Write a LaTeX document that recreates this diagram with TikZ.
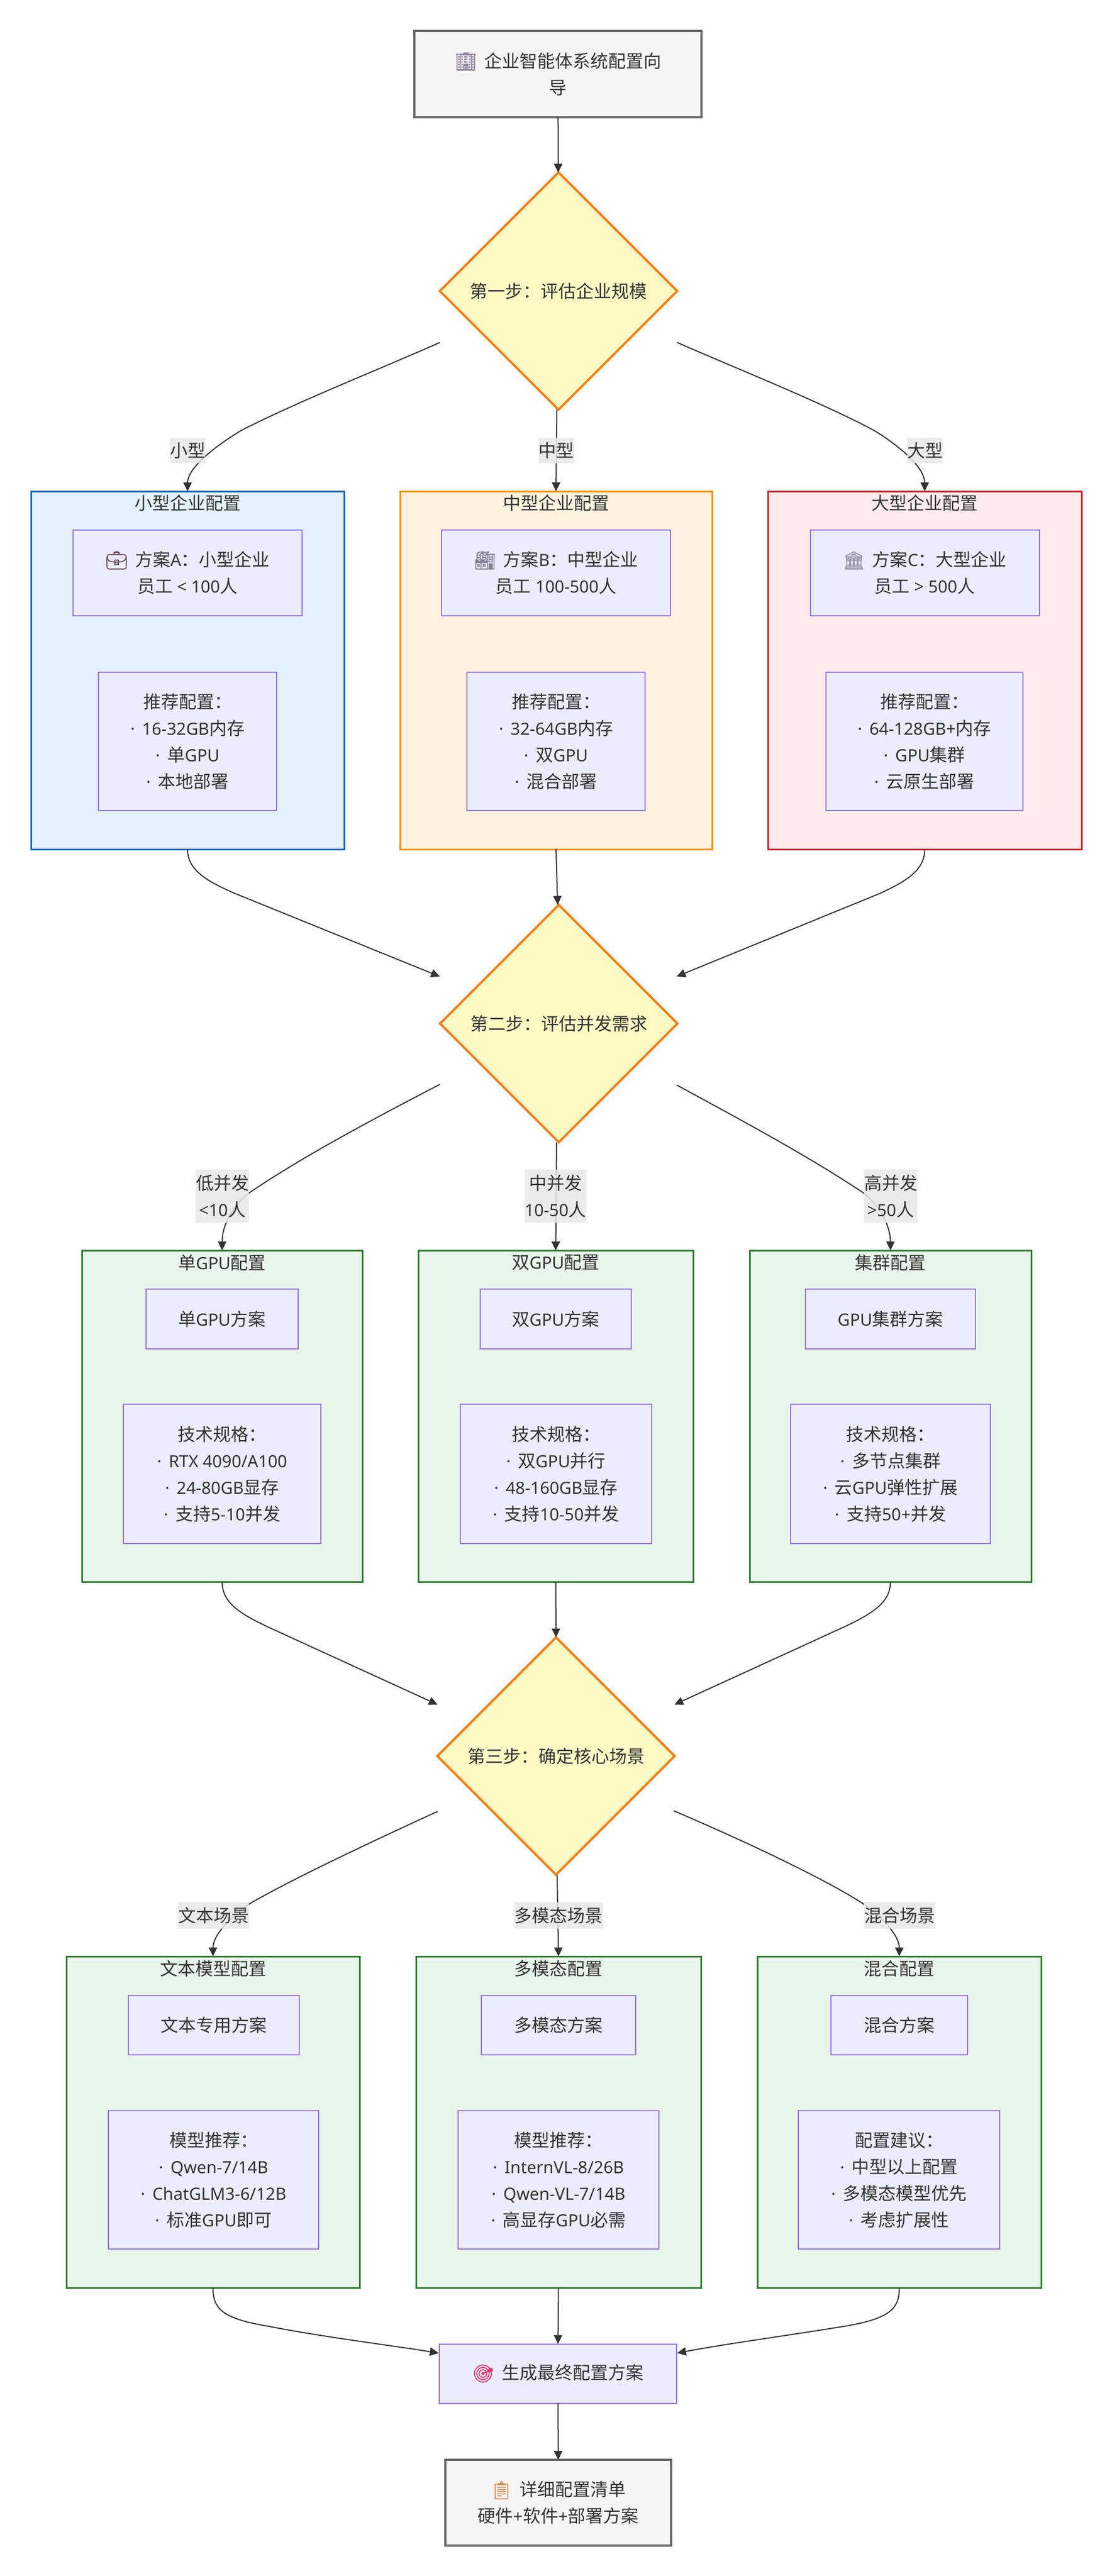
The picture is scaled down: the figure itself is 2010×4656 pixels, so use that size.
\documentclass[tikz,border=0pt]{standalone}
\usepackage{fontspec}
\usepackage{tikz}
\usetikzlibrary{arrows.meta,shapes.geometric}
\setmainfont{Noto Sans CJK SC}
\newfontfamily\latfont[Scale=0.95]{Noto Sans}
\newfontfamily\emojifont[FakeBold=1.5]{Noto Emoji}
\newcommand{\lat}[1]{{\latfont #1}}
\newcommand{\pnt}{\lat{·}\hspace{13pt}}
\newcommand{\emo}[2]{{\emojifont\textcolor{#1}{#2}}\hspace{13pt}}
\newcommand{\boxfont}{\fontsize{32}{48}\selectfont}
\definecolor{ink}{HTML}{333333}
\definecolor{nodefill}{HTML}{ECECFF}
\definecolor{nodeline}{HTML}{9370DB}
\definecolor{endfill}{HTML}{F5F5F5}
\definecolor{endline}{HTML}{666666}
\definecolor{stepfill}{HTML}{FFF9C4}
\definecolor{stepline}{HTML}{F57F17}
\definecolor{greenfill}{HTML}{E8F5E9}
\definecolor{greenline}{HTML}{2E7D32}
\definecolor{bluefill}{HTML}{E3F2FD}
\definecolor{blueline}{HTML}{1565C0}
\definecolor{orangefill}{HTML}{FFF3E0}
\definecolor{orangeline}{HTML}{FF8F00}
\definecolor{redfill}{HTML}{FFEBEE}
\definecolor{redline}{HTML}{C62828}
\definecolor{emobuild}{HTML}{8F86A0}
\definecolor{emocase}{HTML}{6D4550}
\definecolor{emomill}{HTML}{7F8296}
\definecolor{emohall}{HTML}{9A97A8}
\definecolor{emogoal}{HTML}{E5366E}
\definecolor{emolist}{HTML}{D9915A}
\tikzset{
  x=1pt, y=-1pt,
  every node/.style={font=\boxfont, text=ink, align=center, inner sep=0pt, outer sep=0pt},
  planbox/.style={draw=nodeline, fill=nodefill, line width=2pt},
  endbox/.style={draw=endline, fill=endfill, line width=4pt},
  stepbox/.style={diamond, aspect=1, draw=stepline, fill=stepfill, line width=4pt,
                  minimum width=429pt, minimum height=429pt},
  frame/.style={line width=3pt},
  bluegrp/.style={frame, draw=blueline, fill=bluefill},
  orangegrp/.style={frame, draw=orangeline, fill=orangefill},
  redgrp/.style={frame, draw=redline, fill=redfill},
  greengrp/.style={frame, draw=greenline, fill=greenfill},
  flow/.style={draw=ink, line width=2pt, -{Triangle[length=16pt,width=15pt]}},
  tag/.style={fill=black!9, fill opacity=0.85, text opacity=1},
}
\begin{document}
\begin{tikzpicture}
        \useasboundingbox (0,0) rectangle (2010,4656);
        %top
        \node [endbox, minimum width=519pt, minimum height=156pt] (start) at (1008.5,134)
              {\emo{emobuild}{🏢}企业智能体系统配置向\\导};
        \node [stepbox] (step1) at (1009.5,526) {第一步：评估企业规模};
        %company size
        \node [bluegrp, minimum width=566pt, minimum height=647pt]   (small) at (339,1211.5) {};
        \node [orangegrp, minimum width=564pt, minimum height=647pt] (mid)   at (1005,1211.5) {};
        \node [redgrp, minimum width=567pt, minimum height=647pt]    (big)   at (1671.5,1211.5) {};
        \node at (339,909)    {小型企业配置};
        \node at (1005,909)   {中型企业配置};
        \node at (1671.5,909) {大型企业配置};
        \node [planbox, minimum width=414pt, minimum height=155pt] (plana) at (339,1035.5)
              {\emo{emocase}{💼}方案\lat{A}：小型企业\\员工\lat{ < 100}人};
        \node [planbox, minimum width=414pt, minimum height=155pt] (planb) at (1005,1035.5)
              {\emo{emomill}{🏭}方案\lat{B}：中型企业\\员工\lat{ 100-500}人};
        \node [planbox, minimum width=414pt, minimum height=155pt] (planc) at (1671.5,1035.5)
              {\emo{emohall}{🏛}方案\lat{C}：大型企业\\员工\lat{ > 500}人};
        \node [planbox, minimum width=322pt, minimum height=250pt] (reca) at (339,1340)
              {推荐配置：\\\pnt\lat{16-32GB}内存\\\pnt 单\lat{GPU}\\\pnt 本地部署};
        \node [planbox, minimum width=322pt, minimum height=250pt] (recb) at (1005,1340)
              {推荐配置：\\\pnt\lat{32-64GB}内存\\\pnt 双\lat{GPU}\\\pnt 混合部署};
        \node [planbox, minimum width=356pt, minimum height=250pt] (recc) at (1671,1340)
              {推荐配置：\\\pnt\lat{64-128GB+}内存\\\pnt\lat{GPU}集群\\\pnt 云原生部署};
        %concurrency
        \node [stepbox] (step2) at (1010,1850) {第二步：评估并发需求};
        \node [greengrp, minimum width=507pt, minimum height=599pt] (onegpu) at (401.5,2559.5) {};
        \node [greengrp, minimum width=497pt, minimum height=599pt] (twogpu) at (1004.5,2559.5) {};
        \node [greengrp, minimum width=509pt, minimum height=599pt] (farm)   at (1609.5,2559.5) {};
        \node at (401.5,2282)  {单\lat{GPU}配置};
        \node at (1004.5,2282) {双\lat{GPU}配置};
        \node at (1609.5,2282) {集群配置};
        \node [planbox, minimum width=275pt, minimum height=108pt] (plan1) at (401.5,2384)  {单\lat{GPU}方案};
        \node [planbox, minimum width=273pt, minimum height=108pt] (plan2) at (1004.5,2384) {双\lat{GPU}方案};
        \node [planbox, minimum width=307pt, minimum height=108pt] (plan3) at (1609.5,2384) {\lat{GPU}集群方案};
        \node [planbox, minimum width=357pt, minimum height=252pt] (spec1) at (401.5,2664)
              {技术规格：\\\pnt\lat{RTX 4090/A100}\\\pnt\lat{24-80GB}显存\\\pnt 支持\lat{5-10}并发};
        \node [planbox, minimum width=346pt, minimum height=252pt] (spec2) at (1005,2664)
              {技术规格：\\\pnt 双\lat{GPU}并行\\\pnt\lat{48-160GB}显存\\\pnt 支持\lat{10-50}并发};
        \node [planbox, minimum width=361pt, minimum height=252pt] (spec3) at (1609.5,2664)
              {技术规格：\\\pnt 多节点集群\\\pnt 云\lat{GPU}弹性扩展\\\pnt 支持\lat{50+}并发};
        %scenario
        \node [stepbox] (step3) at (1005,3174) {第三步：确定核心场景};
        \node [greengrp, minimum width=530pt, minimum height=599pt] (text)  at (385,3835.5) {};
        \node [greengrp, minimum width=515pt, minimum height=599pt] (multi) at (1009.5,3835.5) {};
        \node [greengrp, minimum width=513pt, minimum height=599pt] (mixed) at (1625.5,3835.5) {};
        \node at (385,3558)    {文本模型配置};
        \node at (1009.5,3558) {多模态配置};
        \node at (1625.5,3558) {混合配置};
        \node [planbox, minimum width=309pt, minimum height=107pt] (plant) at (386.5,3660)  {文本专用方案};
        \node [planbox, minimum width=279pt, minimum height=107pt] (planm) at (1009.5,3660) {多模态方案};
        \node [planbox, minimum width=247pt, minimum height=107pt] (planx) at (1625.5,3660) {混合方案};
        \node [planbox, minimum width=380pt, minimum height=250pt] (modt) at (386,3940)
              {模型推荐：\\\pnt\lat{Qwen-7/14B}\\\pnt\lat{ChatGLM3-6/12B}\\\pnt 标准\lat{GPU}即可};
        \node [planbox, minimum width=363pt, minimum height=250pt] (modm) at (1009.5,3940)
              {模型推荐：\\\pnt\lat{InternVL-8/26B}\\\pnt\lat{Qwen-VL-7/14B}\\\pnt 高显存\lat{GPU}必需};
        \node [planbox, minimum width=364pt, minimum height=250pt] (modx) at (1625,3940)
              {配置建议：\\\pnt 中型以上配置\\\pnt 多模态模型优先\\\pnt 考虑扩展性};
        %bottom
        \node [planbox, minimum width=429pt, minimum height=107pt] (final) at (1008.5,4290)
              {\emo{emogoal}{🎯}生成最终配置方案};
        \node [endbox, minimum width=408pt, minimum height=155pt] (sheet) at (1009,4523.5)
              {\emo{emolist}{📋}详细配置清单\\硬件\lat{+}软件\lat{+}部署方案};
        %free ends beside the diamonds
        \coordinate (s1l) at (795,619);   \coordinate (s1r) at (1224,619);
        \coordinate (s2wl) at (795,1765); \coordinate (s2wr) at (1223,1765);
        \coordinate (s2l) at (795,1960);  \coordinate (s2r) at (1223,1961);
        \coordinate (s3wl) at (791,3081); \coordinate (s3wr) at (1219,3081);
        \coordinate (s3l) at (791,3274);  \coordinate (s3r) at (1218,3273);
        \coordinate (fwl) at (793,4253);  \coordinate (fwr) at (1224,4253);
        %edges
        \draw [flow] (start) -- (step1);
        \draw [flow] (s1l) .. controls (680,670) and (540,725) .. (436,778)
                           .. controls (375,815) and (339,850) .. (small.north);
        \draw [flow] ([xshift=-3pt]step1.south) -- (mid.north);
        \draw [flow] (s1r) .. controls (1340,670) and (1480,725) .. (1580,778)
                           .. controls (1640,815) and (1671.5,850) .. (big.north);
        \draw [flow] (small.south) .. controls (339,1572) and (372,1592) .. (425,1615) -- (s2wl);
        \draw [flow] (mid.south) -- ([xshift=-2pt]step2.north);
        \draw [flow] (big.south) .. controls (1671.5,1572) and (1640,1592) .. (1590,1615) -- (s2wr);
        \draw [flow] (s2l) .. controls (660,2030) and (540,2095) .. (449,2157)
                           .. controls (420,2180) and (401.5,2215) .. (onegpu.north);
        \draw [flow] ([xshift=-4pt]step2.south) -- (twogpu.north);
        \draw [flow] (s2r) .. controls (1350,2030) and (1470,2095) .. (1562,2157)
                           .. controls (1590,2180) and (1609.5,2215) .. (farm.north);
        \draw [flow] (onegpu.south) .. controls (401.5,2895) and (430,2915) .. (483,2940) -- (s3wl);
        \draw [flow] (twogpu.south) -- (step3.north);
        \draw [flow] (farm.south) .. controls (1609.5,2895) and (1580,2915) .. (1527,2940) -- (s3wr);
        \draw [flow] (s3l) .. controls (680,3325) and (530,3395) .. (451,3441)
                           .. controls (410,3470) and (385,3500) .. (text.north);
        \draw [flow] ([xshift=2pt]step3.south) -- (multi.north);
        \draw [flow] (s3r) .. controls (1340,3325) and (1490,3395) .. (1562,3442)
                           .. controls (1600,3470) and (1625.5,3500) .. (mixed.north);
        \draw [flow] (text.south) .. controls (385,4172) and (400,4190) .. (482,4204)
                           .. controls (590,4225) and (700,4238) .. (fwl);
        \draw [flow] (multi.south) -- (final.north);
        \draw [flow] (mixed.south) .. controls (1625.5,4172) and (1610,4190) .. (1530,4204)
                           .. controls (1420,4222) and (1320,4235) .. (fwr);
        \draw [flow] (final.south) -- (sheet.north);
        %edge labels
        \node [tag, minimum width=64pt, minimum height=46pt]  (lbls) at (339,814)    {小型};
        \node [tag, minimum width=64pt, minimum height=46pt]  (lblm) at (1005.5,814) {中型};
        \node [tag, minimum width=64pt, minimum height=46pt]  (lblb) at (1672,814)   {大型};
        \node [tag, minimum width=96pt, minimum height=96pt]  (lbll) at (402,2162)   {低并发\\\lat{<10}人};
        \node [tag, minimum width=110pt, minimum height=96pt] (lblc) at (1004,2162)  {中并发\\\lat{10-50}人};
        \node [tag, minimum width=96pt, minimum height=96pt]  (lblh) at (1610,2162)  {高并发\\\lat{>50}人};
        \node [tag, minimum width=128pt, minimum height=48pt] (lblt) at (386,3462)   {文本场景};
        \node [tag, minimum width=160pt, minimum height=48pt] (lblo) at (1009.5,3462) {多模态场景};
        \node [tag, minimum width=128pt, minimum height=48pt] (lblx) at (1626,3462)  {混合场景};
\end{tikzpicture}
\end{document}
